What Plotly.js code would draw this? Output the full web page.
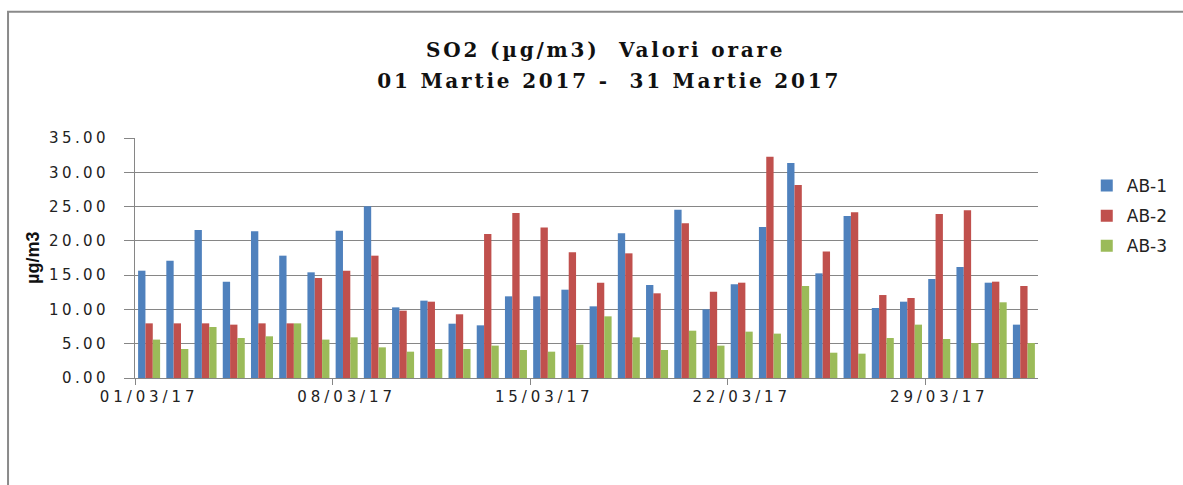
<!DOCTYPE html>
<html>
<head>
<meta charset="utf-8">
<script src="https://cdn.plot.ly/plotly-3.0.1.min.js"></script>
<style>
html,body{margin:0;padding:0;background:#fff;}
#chart{width:1183px;height:485px;}
#chart .ytick text { letter-spacing: 3.4px; }
#chart .xtick text { letter-spacing: 3.9px; }
#chart .gtitle, #chart .title-line2 text { letter-spacing: 2.8px; }
</style>
</head>
<body>
<div id="chart"></div>
<script>
const days = ["01/03/17","02/03/17","03/03/17","04/03/17","05/03/17","06/03/17","07/03/17","08/03/17",
  "09/03/17","10/03/17","11/03/17","12/03/17","13/03/17","14/03/17","15/03/17","16/03/17",
  "17/03/17","18/03/17","19/03/17","20/03/17","21/03/17","22/03/17","23/03/17","24/03/17",
  "25/03/17","26/03/17","27/03/17","28/03/17","29/03/17","30/03/17","31/03/17","01/04/17"];
const ab1 = [15.65,17.10,21.60,14.05,21.40,17.84,15.41,21.49,25.04,10.30,11.28,7.92,7.68,11.91,11.91,12.88,
  10.45,21.10,13.56,24.55,10.01,13.66,22.02,31.36,15.26,23.63,10.21,11.13,14.44,16.19,13.90,7.78];
const ab2 = [7.97,7.97,7.97,7.78,7.97,7.97,14.58,15.65,17.84,9.82,11.13,9.29,21.00,24.06,21.93,18.33,
  13.90,18.18,12.35,22.56,12.59,13.90,32.28,28.15,18.43,24.16,12.10,11.67,23.92,24.45,14.05,13.42];
const ab3 = [5.60,4.23,7.44,5.83,6.08,7.97,5.60,5.93,4.47,3.84,4.23,4.23,4.72,4.08,3.84,4.86,
  8.99,5.93,4.08,6.90,4.72,6.76,6.47,13.42,3.69,3.55,5.83,7.78,5.69,5.10,11.04,5.10];
const seriesNames = ["AB-1","AB-2","AB-3"];
const colors = ["#4F81BD","#C0504D","#9BBB59"];
const tickLabels = ["01/03/17","08/03/17","15/03/17","22/03/17","29/03/17"];
const yTicks = [0,5,10,15,20,25,30,35];
const titleLine1 = "SO2 (µg/m3)  Valori orare";
const titleLine2 = "01 Martie 2017 -  31 Martie 2017";
const yTitle = "µg/m3";

const series = [ab1, ab2, ab3];
const traces = series.map((vals, i) => ({
  type: "bar",
  x: days,
  y: vals,
  name: seriesNames[i],
  legendgroup: "g" + i,
  marker: {color: colors[i], line: {width: 0}},
  hoverinfo: "x+y+name"
}));
// invisible trace to carry the boundary tick axis
traces.push({
  type: "scatter", x: [0], y: [0], xaxis: "x2", mode: "markers",
  marker: {opacity: 0}, showlegend: false, hoverinfo: "skip"
});

const boundaryTicks = tickLabels.map(t => days.indexOf(t) - 0.5);

const layout = {
  width: 1183, height: 485,
  margin: {l: 135, r: 145, t: 138, b: 107, autoexpand: false},
  paper_bgcolor: "#ffffff",
  plot_bgcolor: "#ffffff",
  bargap: 0.22,
  bargroupgap: 0,
  title: {
    text: "<b>" + titleLine1 + "</b>",
    font: {family: "DejaVu Serif", size: 20, color: "#111"},
    x: 0.512, xanchor: "center",
    y: 0.897, yanchor: "middle"
  },
  xaxis: {
    type: "category",
    range: [-0.5, days.length - 0.5],
    tickmode: "array",
    tickvals: tickLabels,
    ticktext: tickLabels,
    ticks: "",
    ticklabelstandoff: 5,
    showgrid: false,
    showline: true, linecolor: "#868686", linewidth: 1,
    tickfont: {family: "DejaVu Sans", size: 15, color: "#222"},
    fixedrange: true
  },
  xaxis2: {
    overlaying: "x",
    type: "linear",
    range: [-0.5, days.length - 0.5],
    tickmode: "array",
    tickvals: boundaryTicks,
    showticklabels: false,
    ticks: "outside", ticklen: 6, tickcolor: "#868686",
    showgrid: false, zeroline: false, showline: false,
    side: "bottom", anchor: "y"
  },
  yaxis: {
    range: [0, 35],
    tickmode: "array",
    tickvals: yTicks,
    tickformat: ".2f",
    ticks: "outside", ticklen: 10, tickcolor: "#868686",
    ticklabelstandoff: 12,
    showgrid: true, gridcolor: "#868686", gridwidth: 1,
    showline: true, linecolor: "#868686", linewidth: 1,
    zeroline: false,
    tickfont: {family: "DejaVu Sans", size: 15, color: "#222"},
    fixedrange: true
  },
  annotations: [{
    text: "<b>" + titleLine2 + "</b>", xref: "paper", yref: "paper",
    x: 0.525, y: 1.239, xanchor: "center", yanchor: "middle",
    showarrow: false, captureevents: false,
    font: {family: "DejaVu Serif", size: 20, color: "#111"}
  }, {
    text: "<b>" + yTitle + "</b>", xref: "paper", yref: "paper",
    x: -0.113, y: 0.5, xanchor: "center", yanchor: "middle",
    textangle: -90, showarrow: false,
    font: {family: "Liberation Sans", size: 18, color: "#111"}
  }],
  legend: {
    x: 1.054, xanchor: "left",
    y: 0.875, yanchor: "top",
    font: {family: "DejaVu Sans", size: 17, color: "#222"},
    tracegroupgap: 5,
    bgcolor: "rgba(0,0,0,0)"
  },
  shapes: [{
    type: "rect", xref: "paper", yref: "paper",
    x0: -0.1406, x1: 1.4, y0: -0.8, y1: 1.526,
    line: {color: "#8a8a8a", width: 2}, fillcolor: "rgba(0,0,0,0)", layer: "below"
  }],
  showlegend: true
};

Plotly.newPlot("chart", traces, layout, {displayModeBar: false, staticPlot: true}).then(gd => {
  const ann = gd.querySelectorAll(".annotation")[0];
  if (ann) ann.classList.add("title-line2");
});
</script>
</body>
</html>
